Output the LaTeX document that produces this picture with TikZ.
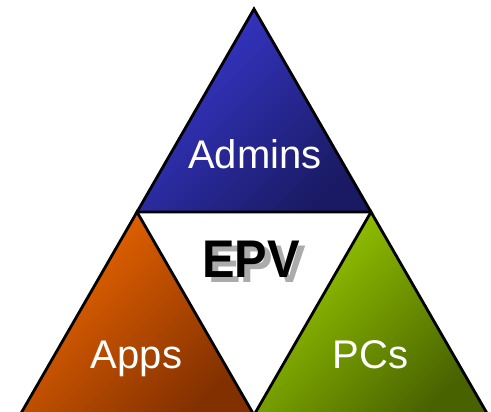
\documentclass[tikz,border=0pt]{standalone}
\usepackage{fontspec}
\setmainfont{Liberation Sans}
\usepackage{graphicx}
\definecolor{blueA}{RGB}{56,56,208}
\definecolor{blueB}{RGB}{26,26,100}
\definecolor{orangeA}{RGB}{240,104,0}
\definecolor{orangeB}{RGB}{130,48,0}
\definecolor{greenA}{RGB}{156,206,0}
\definecolor{greenB}{RGB}{72,98,0}
\definecolor{epvshadow}{RGB}{150,150,150}
\tikzset{
  tri/.style={draw=black, line width=2.8pt, line join=miter},
  label/.style={text=white, anchor=base, inner sep=0pt, font=\fontsize{40}{42}\selectfont},
  title/.style={anchor=base, inner sep=0pt, font=\fontsize{53}{56}\selectfont\bfseries},
}
\begin{document}
\begin{tikzpicture}[x=1pt,y=-1pt]
\useasboundingbox (0,0) rectangle (491,412);
\clip (0,0) rectangle (491,412);
% corner points of the three triangles
\coordinate (T)  at (254,9);
\coordinate (L)  at (137,212);
\coordinate (R)  at (371,212);
\coordinate (BL) at (20,415);
\coordinate (BM) at (254,415);
\coordinate (BR) at (488,415);
% soft drop shadows
\foreach \d/\o in {4/0.10,3/0.12,2/0.15}{
  \fill[black, opacity=\o, shift={(\d pt,-\d pt)}] (T) -- (L) -- (R) -- cycle;
  \fill[black, opacity=\o, shift={(\d pt,-\d pt)}] (L) -- (BL) -- (BM) -- cycle;
  \fill[black, opacity=\o, shift={(\d pt,-\d pt)}] (R) -- (BM) -- (BR) -- cycle;
}
% top: Admins
\shade[tri, top color=blueA, bottom color=blueB, shading angle=45]
  (T) -- (L) -- (R) -- cycle;
% bottom left: Apps
\shade[tri, top color=orangeA, bottom color=orangeB, shading angle=45]
  (L) -- (BL) -- (BM) -- cycle;
% bottom right: PCs
\shade[tri, top color=greenA, bottom color=greenB, shading angle=45]
  (R) -- (BM) -- (BR) -- cycle;
% labels
\node[label] (admins) at (255,168) {Admins};
\node[label] (apps)   at (136.5,368) {Apps};
\node[label] (pcs)    at (370.5,368) {PCs};
% centre title with its shadow
\node[title, text=epvshadow, opacity=0.8] (epvshadow) at (257,283) {\scalebox{0.92}[1]{EPV}};
\node[title, text=black] (epv) at (251,277) {\scalebox{0.92}[1]{EPV}};
\end{tikzpicture}
\end{document}
